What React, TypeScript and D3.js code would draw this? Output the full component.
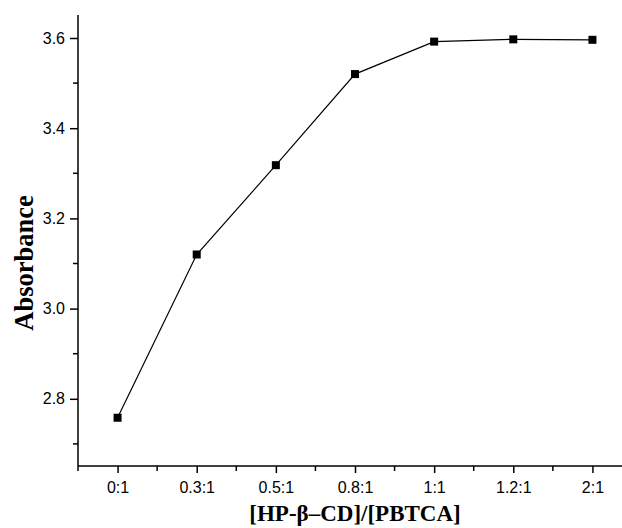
import React, { useRef, useEffect } from 'react';
import * as d3 from 'd3';

// ratios of HP-β-CD to PBTCA, and measured absorbance
const ratios = ['0:1', '0.3:1', '0.5:1', '0.8:1', '1:1', '1.2:1', '2:1'];
const absorbance = [2.758, 3.12, 3.318, 3.52, 3.592, 3.597, 3.596];
const yTicks = [2.8, 3.0, 3.2, 3.4, 3.6];
const yMinorTicks = [2.7, 2.9, 3.1, 3.3, 3.5];

function AbsorbanceChart() {
  const svgRef = useRef<SVGSVGElement>(null);

  useEffect(() => {
    const svg = d3.select(svgRef.current);
    svg.selectAll('*').remove();

    const width = 622;
    const height = 528;
    const left = 78;
    const top = 15;
    const bottom = 466;

    const x = d3.scaleLinear().domain([-0.5, 6.5]).range([left, 632]);
    const y = d3.scaleLinear().domain([2.651, 3.651]).range([bottom, top]);

    const tickFont = '16px "Liberation Sans", Arial, sans-serif';

    // y axis
    const yAxis = svg.append('g').attr('transform', `translate(${left},0)`);
    yAxis.call(d3.axisLeft(y).tickValues(yTicks).tickFormat(d3.format('.1f')).tickSize(8).tickSizeOuter(0).tickPadding(5));
    yAxis.select('.domain').attr('d', `M0,${top}V${bottom}`).attr('stroke-width', 1.5);
    yAxis.selectAll('.tick line').attr('stroke-width', 1.5);
    yAxis.selectAll('.tick text').style('font', tickFont).attr('fill', '#000');
    yAxis.append('g').selectAll('line')
      .data(yMinorTicks)
      .enter().append('line')
      .attr('x1', -5).attr('x2', 0)
      .attr('y1', d => y(d)).attr('y2', d => y(d))
      .attr('stroke', '#000').attr('stroke-width', 1.5);

    // x axis
    const xAxis = svg.append('g').attr('transform', `translate(0,${bottom})`);
    xAxis.call(d3.axisBottom(x).tickValues(d3.range(ratios.length)).tickFormat((d: any) => ratios[d]).tickSize(7).tickSizeOuter(0).tickPadding(9));
    xAxis.select('.domain').attr('d', `M${left},0H${width}`).attr('stroke-width', 1.5);
    xAxis.selectAll('.tick line').attr('stroke-width', 1.5);
    xAxis.selectAll('.tick text').style('font', tickFont).attr('fill', '#000');
    xAxis.append('g').selectAll('line')
      .data(d3.range(-0.5, ratios.length, 1))
      .enter().append('line')
      .attr('x1', d => x(d)).attr('x2', d => x(d))
      .attr('y1', 0).attr('y2', 5)
      .attr('stroke', '#000').attr('stroke-width', 1.5);

    // line
    const line = d3.line<number>()
      .x((d, i) => x(i))
      .y(d => y(d));
    svg.append('path')
      .datum(absorbance)
      .attr('fill', 'none')
      .attr('stroke', '#000')
      .attr('stroke-width', 1.2)
      .attr('d', line);

    // markers
    const s = 8;
    svg.append('g').selectAll('rect')
      .data(absorbance)
      .enter().append('rect')
      .attr('x', (d, i) => x(i) - s / 2)
      .attr('y', d => y(d) - s / 2)
      .attr('width', s)
      .attr('height', s)
      .attr('fill', '#000');

    const titleFont = '"Liberation Serif", "Times New Roman", serif';

    svg.append('text')
      .attr('transform', `translate(33,263) rotate(-90)`)
      .attr('text-anchor', 'middle')
      .style('font', `bold 26.5px ${titleFont}`)
      .text('Absorbance');

    svg.append('text')
      .attr('x', 355)
      .attr('y', 521)
      .attr('text-anchor', 'middle')
      .style('font', `bold 23px ${titleFont}`)
      .text('[HP-β–CD]/[PBTCA]');

    svg.attr('width', width).attr('height', height);
  }, []);

  return <svg ref={svgRef} width={622} height={528} style={{ display: 'block', background: '#fff' }}></svg>;
}

export default function App() {
  return (
    <div style={{ position: 'absolute', left: 0, top: 0 }}>
      <AbsorbanceChart />
    </div>
  );
}
